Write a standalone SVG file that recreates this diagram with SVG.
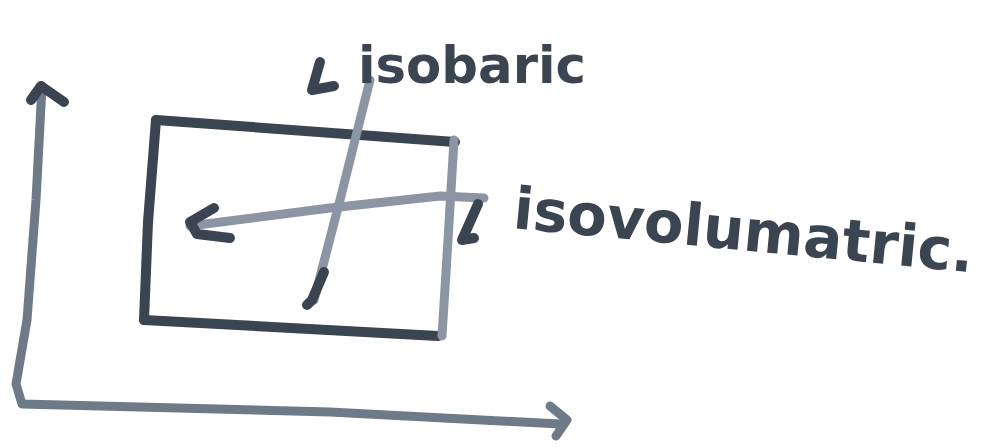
<svg xmlns="http://www.w3.org/2000/svg" width="990" height="448" viewBox="0 0 990 448">
<style>
.dark{fill:none;stroke:#3b4451;stroke-width:10;stroke-linecap:round;stroke-linejoin:round}
.mid{fill:none;stroke:#6f7a88;stroke-width:9;stroke-linecap:round;stroke-linejoin:round}
.light{fill:none;stroke:#8b95a3;stroke-width:9;stroke-linecap:round;stroke-linejoin:round}
.lbl{font-family:"DejaVu Sans","Liberation Sans",sans-serif;font-weight:bold;fill:#3b4451}
</style>
<rect width="990" height="448" fill="#ffffff"/>
<g id="axes">
<path class="mid" d="M42,86 L36,200 L27,320 L16,384 L22,404 L330,412 L560,424"/>
<path class="dark" d="M31,100 L41,86 L64,102"/>
<path class="mid" d="M550,406 L567,420 L556,436"/>
</g>
<g id="box">
<path class="dark" d="M156,120 L455,142"/>
<path class="dark" d="M156,120 L148,222 L144,320"/>
<path class="dark" d="M144,320 L438,336"/>
<path class="light" d="M454,140 L448,240 L442,336"/>
</g>
<g id="connectors">
<path class="light" d="M370,80 L340,200 L314,300"/>
<path class="dark" d="M324,272 L312,300 L307,305"/>
<path class="light" d="M484,198 L440,196 L330,208 L190,226"/>
<path class="dark" d="M214,208 L190,222 L197,234 L230,238"/>
<path class="dark" d="M478,204 L462,240 L474,238"/>
<path class="dark" d="M320,62 L312,90 L334,86"/>
</g>
<g id="label-isobaric">
<text class="lbl" x="358" y="83" font-size="52" textLength="228" lengthAdjust="spacingAndGlyphs">isobaric</text>
</g>
<g id="label-isovolumatric">
<text class="lbl" x="512" y="228" font-size="58" textLength="462" lengthAdjust="spacingAndGlyphs" transform="rotate(5.5 512 228)">isovolumatric.</text>
</g>
</svg>
